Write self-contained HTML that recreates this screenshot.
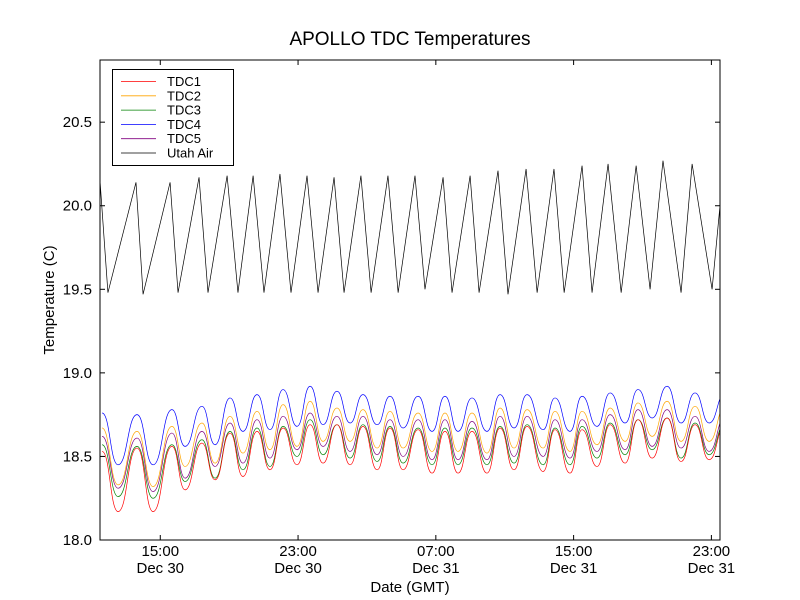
<!DOCTYPE html>
<html><head><meta charset="utf-8"><style>
body{margin:0;background:#fff;}
svg{display:block;font-family:"Liberation Sans","DejaVu Sans",sans-serif;}
</style></head><body>
<svg id="chart" width="800" height="600" viewBox="0 0 800 600" xmlns="http://www.w3.org/2000/svg">
<rect width="800" height="600" fill="#fff"/>
<text x="410" y="45" font-size="19" text-anchor="middle">APOLLO TDC Temperatures</text>
<defs><clipPath id="pc"><rect x="100" y="60" width="620" height="480"/></clipPath></defs>
<g id="series" clip-path="url(#pc)"></g>
<g id="axes"></g>
<text x="410" y="592" font-size="15" text-anchor="middle">Date (GMT)</text>
<text transform="translate(54,300) rotate(-90)" font-size="15" text-anchor="middle">Temperature (C)</text>
<g id="legend"></g>
</svg>
<script>
// hours since Dec 30 11:30 GMT
const tdcPeakHours=[0.12,2.15,4.18,5.92,7.55,9.12,10.63,12.20,13.76,15.27,16.84,18.47,20.03,21.60,23.23,24.80,26.42,27.99,29.62,31.24,32.93,34.55,36.3];
const tdcTroughHours=[1.05,3.08,4.94,6.68,8.30,9.87,11.44,12.95,14.52,16.09,17.60,19.28,20.79,22.47,24.04,25.73,27.29,28.86,30.49,32.06,33.74,35.37];
const tdc1Peaks=[18.53,18.55,18.56,18.58,18.64,18.65,18.67,18.69,18.69,18.68,18.67,18.66,18.65,18.65,18.67,18.68,18.66,18.66,18.69,18.72,18.73,18.69,18.69];
const tdc1Troughs=[18.17,18.17,18.30,18.36,18.38,18.42,18.45,18.46,18.45,18.42,18.42,18.40,18.40,18.40,18.42,18.41,18.40,18.44,18.46,18.49,18.47,18.48];
const tdc2Peaks=[18.67,18.65,18.68,18.70,18.74,18.77,18.81,18.83,18.79,18.78,18.77,18.76,18.76,18.76,18.79,18.78,18.77,18.77,18.79,18.82,18.83,18.80,18.80];
const tdc2Troughs=[18.33,18.32,18.44,18.46,18.52,18.54,18.56,18.59,18.59,18.55,18.55,18.53,18.53,18.52,18.55,18.55,18.53,18.57,18.59,18.62,18.59,18.59];
const tdc3Peaks=[18.57,18.56,18.57,18.60,18.65,18.67,18.68,18.72,18.69,18.69,18.68,18.67,18.67,18.67,18.68,18.69,18.67,18.68,18.70,18.72,18.73,18.70,18.70];
const tdc3Troughs=[18.26,18.25,18.35,18.37,18.42,18.44,18.50,18.51,18.49,18.47,18.46,18.45,18.45,18.45,18.46,18.45,18.45,18.49,18.51,18.54,18.49,18.51];
const tdc4Peaks=[18.76,18.75,18.78,18.80,18.85,18.87,18.90,18.92,18.89,18.87,18.86,18.86,18.86,18.85,18.87,18.87,18.85,18.86,18.88,18.90,18.92,18.88,18.88];
const tdc4Troughs=[18.45,18.45,18.56,18.57,18.65,18.66,18.68,18.69,18.70,18.69,18.67,18.65,18.65,18.65,18.67,18.66,18.65,18.68,18.70,18.73,18.70,18.70];
const tdc5Peaks=[18.62,18.61,18.64,18.65,18.70,18.72,18.74,18.76,18.74,18.74,18.72,18.72,18.72,18.71,18.74,18.74,18.72,18.72,18.75,18.78,18.78,18.74,18.74];
const tdc5Troughs=[18.31,18.29,18.37,18.44,18.46,18.49,18.54,18.56,18.53,18.51,18.50,18.48,18.48,18.48,18.50,18.50,18.49,18.53,18.54,18.56,18.55,18.53];
const airPeakHours=[0,2.09,4.07,5.75,7.38,8.89,10.45,12.02,13.59,15.15,16.72,18.29,19.92,21.49,23.11,24.74,26.36,27.99,29.50,31.13,32.69,34.38,36.0];
const airTroughHours=[0.46,2.50,4.53,6.27,8.01,9.52,11.09,12.66,14.17,15.74,17.31,18.87,20.44,22.01,23.69,25.38,26.95,28.57,30.26,31.94,33.74,35.54];
const airPeaks=[20.15,20.14,20.14,20.17,20.18,20.18,20.19,20.18,20.17,20.18,20.18,20.18,20.17,20.18,20.21,20.22,20.22,20.24,20.25,20.24,20.27,20.25,20.0];
const airTroughs=[19.48,19.47,19.48,19.48,19.48,19.48,19.48,19.48,19.48,19.48,19.48,19.50,19.48,19.48,19.47,19.48,19.48,19.48,19.48,19.50,19.48,19.50];
const yTicks=[18.0,18.5,19.0,19.5,20.0,20.5];
const yTickLabels=["18.0","18.5","19.0","19.5","20.0","20.5"];
const xTickHours=[3.5,11.5,19.5,27.5,35.5];
const xTickTimes=["15:00","23:00","07:00","15:00","23:00"];
const xTickDates=["Dec 30","Dec 30","Dec 31","Dec 31","Dec 31"];
const seriesNames=["TDC1","TDC2","TDC3","TDC4","TDC5","Utah Air"];
const seriesColors=["#ff0000","#ffa500","#008000","#0000ff","#800080","#000000"];

const X0=100,X1=720,Y0=540,Y1=60,HMAX=36.0,VMIN=18.0,VMAX=20.872;
const xs=h=>X0+(h/HMAX)*(X1-X0);
const ys=v=>Y0-(v-VMIN)/(VMAX-VMIN)*(Y0-Y1);
const NS="http://www.w3.org/2000/svg";
function mk(tag,attrs,parent){const e=document.createElementNS(NS,tag);for(const k in attrs)e.setAttribute(k,attrs[k]);parent.appendChild(e);return e;}
function merge(ph,pv,th,tv){const pts=[];for(let i=0;i<ph.length;i++){pts.push([ph[i],pv[i]]);if(i<th.length)pts.push([th[i],tv[i]]);}pts.sort((a,b)=>a[0]-b[0]);return pts;}
function smoothPath(pts){let d="M"+xs(pts[0][0]).toFixed(2)+","+ys(pts[0][1]).toFixed(2);for(let i=1;i<pts.length;i++){const xa=xs(pts[i-1][0]),ya=ys(pts[i-1][1]),xb=xs(pts[i][0]),yb=ys(pts[i][1]);const m=(xa+xb)/2;d+=" C"+m.toFixed(2)+","+ya.toFixed(2)+" "+m.toFixed(2)+","+yb.toFixed(2)+" "+xb.toFixed(2)+","+yb.toFixed(2);}return d;}
function linePath(pts){return pts.map((p,i)=>(i?"L":"M")+xs(p[0]).toFixed(2)+","+ys(p[1]).toFixed(2)).join(" ");}
const sg=document.getElementById("series");
const tdcData=[[tdc1Peaks,tdc1Troughs],[tdc2Peaks,tdc2Troughs],[tdc3Peaks,tdc3Troughs],[tdc4Peaks,tdc4Troughs],[tdc5Peaks,tdc5Troughs]];
const order=[3,1,4,2,0];
order.forEach(i=>{
  const p=mk("path",{d:smoothPath(merge(tdcPeakHours,tdcData[i][0],tdcTroughHours,tdcData[i][1])),fill:"none",stroke:seriesColors[i],"stroke-width":"0.7"},sg);
  
  
});
const air=mk("path",{d:linePath(merge(airPeakHours,airPeaks,airTroughHours,airTroughs)),fill:"none",stroke:"#000","stroke-width":"0.7"},sg);



const ax=document.getElementById("axes");
const frame=mk("rect",{x:X0,y:Y1,width:X1-X0,height:Y0-Y1,fill:"none",stroke:"#000","stroke-width":"1"},ax);


yTicks.forEach((v,i)=>{
  const y=ys(v);
  mk("line",{x1:X0,x2:X0+5,y1:y,y2:y,stroke:"#000"},ax);
  mk("line",{x1:X1-5,x2:X1,y1:y,y2:y,stroke:"#000"},ax);
  const t=mk("text",{x:X0-8,y:y+5,"font-size":"15","text-anchor":"end"},ax);
  t.textContent=yTickLabels[i];
  
  
});
xTickHours.forEach((h,i)=>{
  const x=xs(h);
  mk("line",{x1:x,x2:x,y1:Y0,y2:Y0-5,stroke:"#000"},ax);
  mk("line",{x1:x,x2:x,y1:Y1,y2:Y1+5,stroke:"#000"},ax);
  const t=mk("text",{x:x,y:556,"font-size":"15","text-anchor":"middle"},ax);
  t.textContent=xTickTimes[i];
  
  
  const t2=mk("text",{x:x,y:573,"font-size":"15","text-anchor":"middle"},ax);
  t2.textContent=xTickDates[i];
  
  
});
const lg=document.getElementById("legend");


mk("rect",{x:112.5,y:69.5,width:121,height:96,fill:"#fff",stroke:"#000"},lg);
seriesNames.forEach((n,i)=>{
  const y=81.5+i*14.3;
  const g=mk("g",{},lg);
  
  
  mk("line",{x1:121,x2:156,y1:y,y2:y,stroke:seriesColors[i],"stroke-width":"0.8"},g);
  const t=mk("text",{x:167,y:y+4.5,"font-size":"13"},g);
  t.textContent=n;
});
</script>
</body></html>
